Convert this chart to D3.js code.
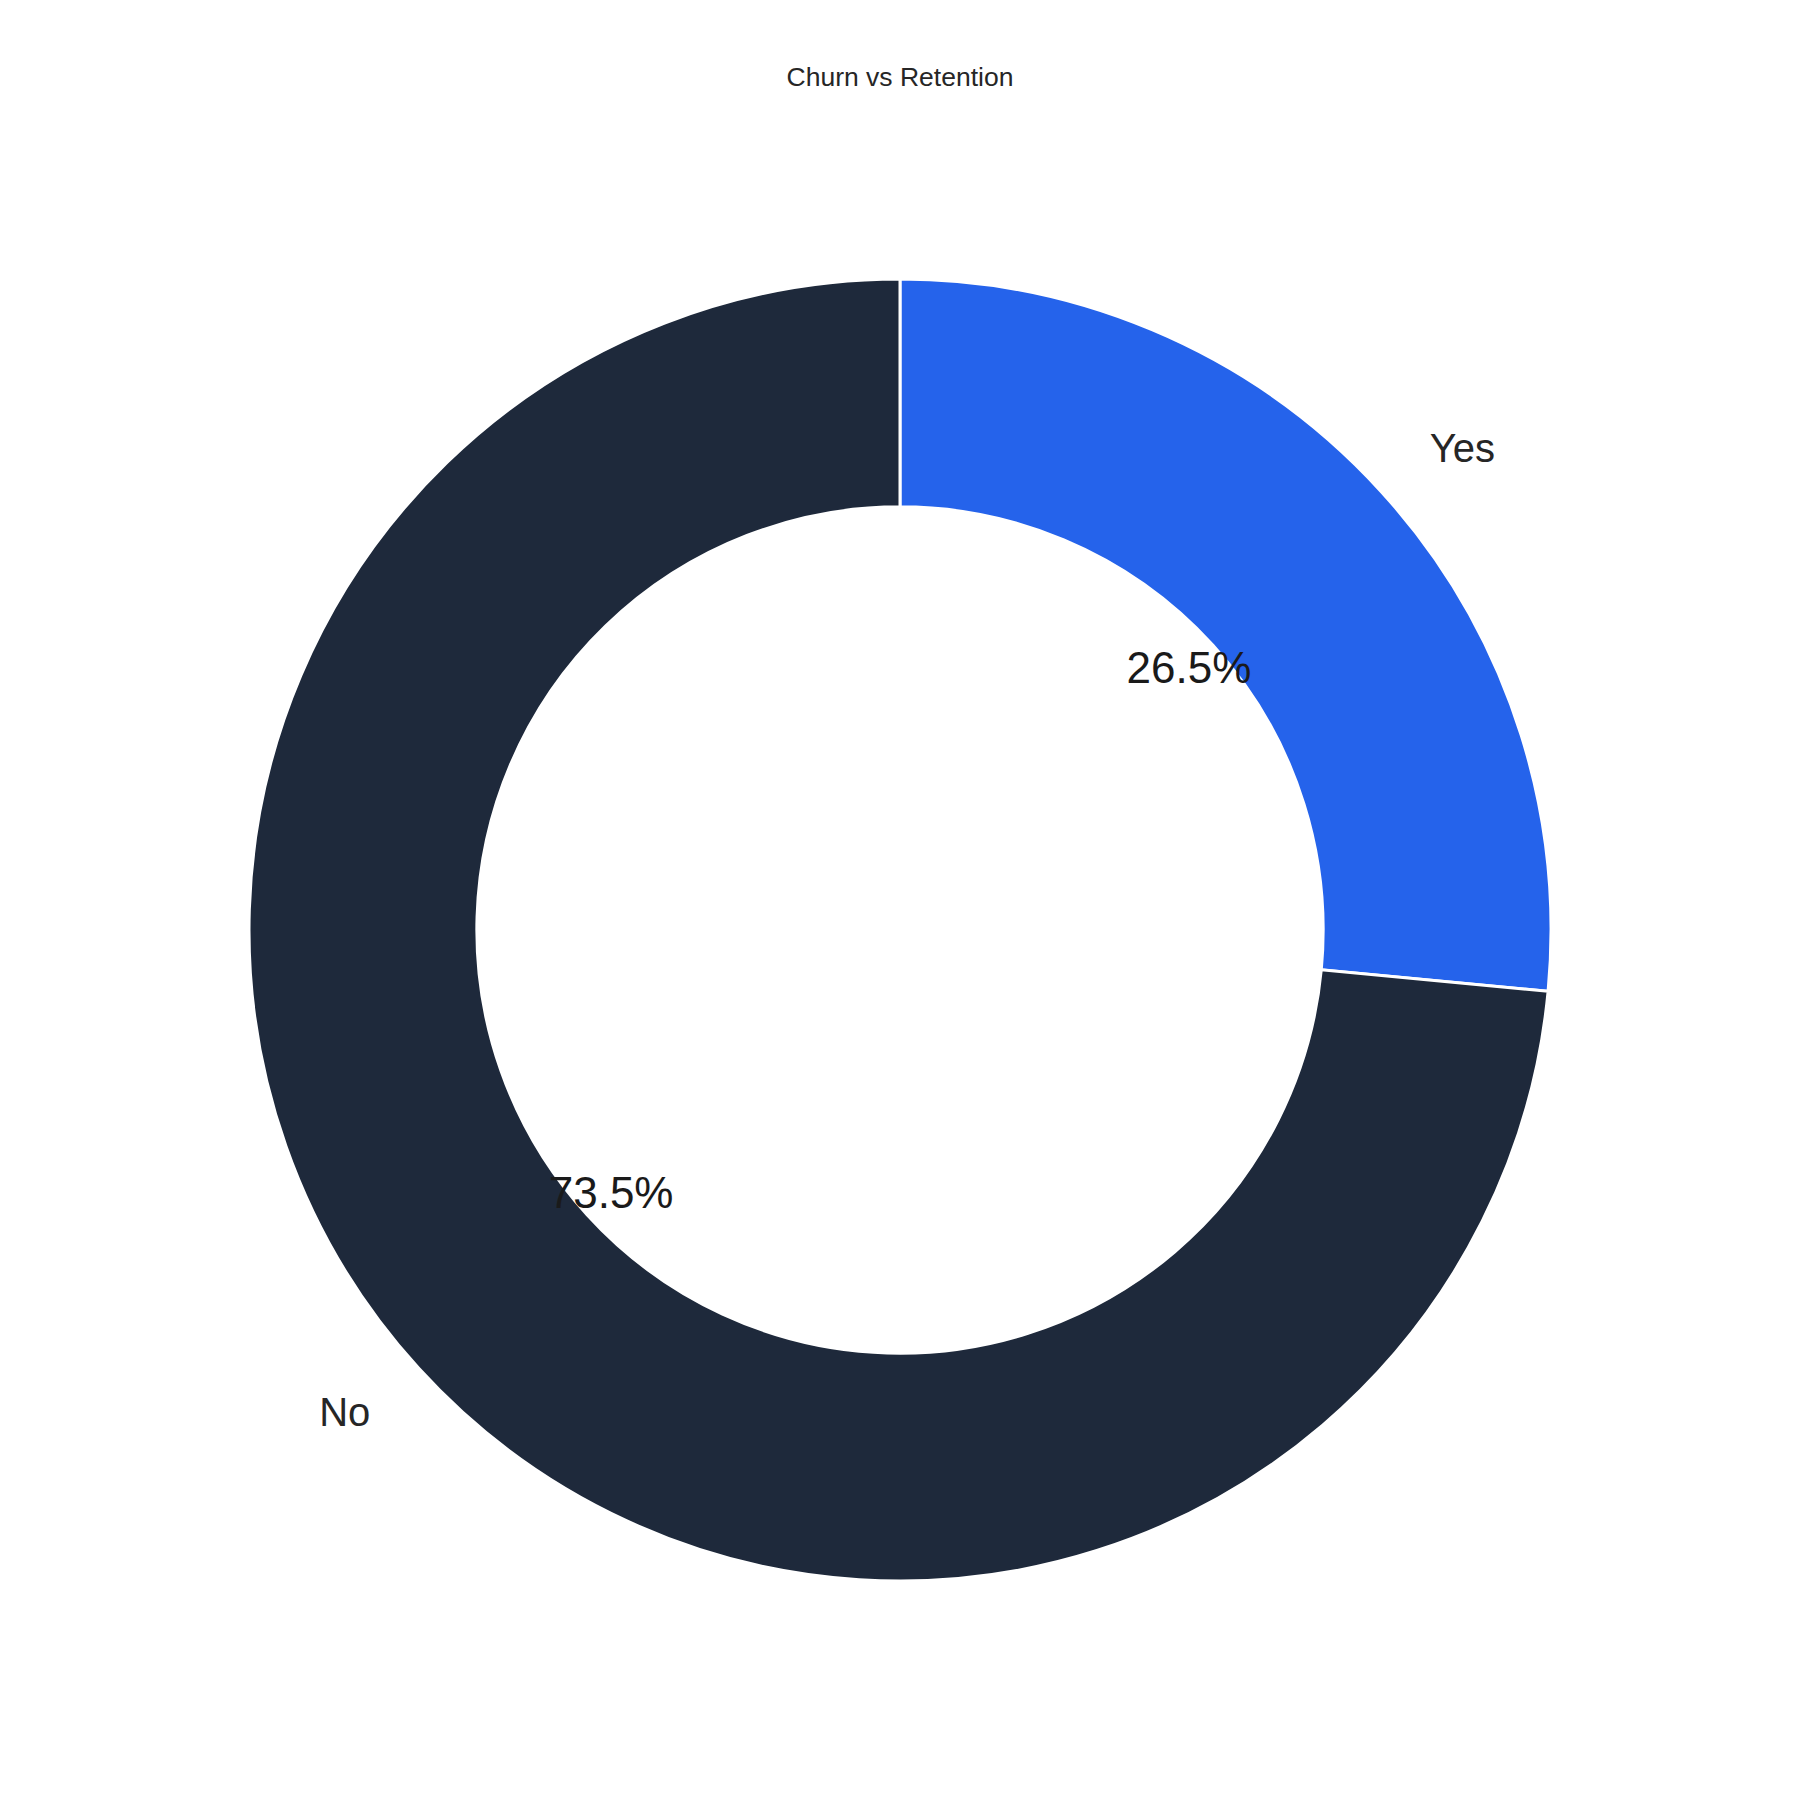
<!DOCTYPE html>
<html><head><meta charset="utf-8">
<script src="https://cdn.jsdelivr.net/npm/d3@7"></script>
<style>body{margin:0;background:#fff}</style></head>
<body><svg id="c" width="1800" height="1800"></svg>
<script>
const labels = ["Yes", "No"];
const values = [26.5, 73.5];
const colors = ["#2563eb", "#1e293b"];
const title = "Churn vs Retention";

const svg = d3.select("#c");
const cx = 900, cy = 930, R = 651, r = R * 0.65;
const font = "'Liberation Sans', Arial, sans-serif";
svg.append("text").attr("x", cx).attr("y", 86).attr("text-anchor", "middle")
  .attr("font-family", font).attr("font-size", 44*0.58*1.0+1).attr("fill", "#262626").text(title);

const pie = d3.pie().sort(null).value(d => d)(values);
const arc = d3.arc().innerRadius(r).outerRadius(R);
const g = svg.append("g").attr("transform", `translate(${cx},${cy})`);
g.selectAll("path").data(pie).join("path").attr("d", arc)
  .attr("fill", (d, i) => colors[i]).attr("stroke", "#fff").attr("stroke-width", 3);

pie.forEach((d, i) => {
  const a = (d.startAngle + d.endAngle) / 2;
  const lx = Math.sin(a) * R * 1.1, ly = -Math.cos(a) * R * 1.1;
  g.append("text").attr("x", lx).attr("y", ly).attr("dy", "0.35em")
    .attr("text-anchor", Math.sin(a) > 0 ? "start" : "end")
    .attr("font-family", font).attr("font-size", 40).attr("fill", "#262626").text(labels[i]);
  const px = Math.sin(a) * R * 0.6, py = -Math.cos(a) * R * 0.6;
  g.append("text").attr("x", px).attr("y", py).attr("dy", "0.35em").attr("text-anchor", "middle")
    .attr("font-family", font).attr("font-size", 44).attr("fill", "#1a1a1a").text(values[i].toFixed(1) + "%");
});
</script></body></html>
